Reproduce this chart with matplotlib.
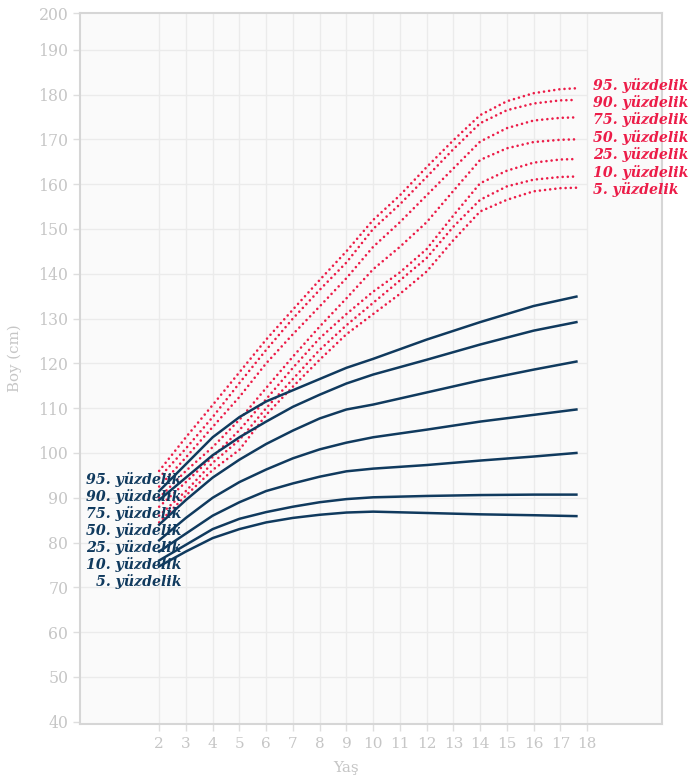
# Growth percentile chart: dark solid lines vs red dotted reference lines.

import numpy as np
import matplotlib.pyplot as plt

# Ages (x values) for the dark solid series.
ages_dark = [2, 3, 4, 5, 6, 7, 8, 9, 10, 12, 14, 16, 17.6]

# Dark solid percentile series (cm).
dark_p95 = [91.5, 97.5, 103.5, 108.0, 111.5, 114.0, 116.5, 119.0, 121.0, 125.3, 129.2, 132.8, 134.9]
dark_p90 = [89.5, 94.5, 99.5, 103.5, 107.0, 110.3, 113.0, 115.5, 117.5, 120.8, 124.2, 127.3, 129.2]
dark_p75 = [84.0, 89.5, 94.5, 98.5, 102.0, 105.0, 107.7, 109.7, 110.8, 113.5, 116.2, 118.6, 120.4]
dark_p50 = [80.5, 85.5, 90.0, 93.5, 96.3, 98.8, 100.8, 102.3, 103.5, 105.2, 107.0, 108.5, 109.7]
dark_p25 = [78.0, 82.0, 86.0, 89.0, 91.5, 93.2, 94.7, 95.9, 96.5, 97.3, 98.3, 99.2, 100.0]
dark_p10 = [76.0, 79.5, 83.0, 85.3, 86.8, 88.0, 89.0, 89.7, 90.1, 90.4, 90.6, 90.7, 90.7]
dark_p5 = [74.7, 78.0, 81.0, 83.0, 84.5, 85.5, 86.2, 86.7, 86.9, 86.6, 86.3, 86.1, 85.9]

# Ages (x values) for the red dotted series.
ages_red = [2, 3, 4, 5, 6, 7, 8, 9, 10, 11, 12, 13, 14, 15, 16, 17, 17.6]

# Red dotted percentile series (cm).
red_p95 = [96.0, 103.5, 110.7, 118.0, 125.3, 132.0, 138.6, 145.0, 152.0, 157.5, 163.8, 169.8, 175.4, 178.5, 180.3, 181.2, 181.4]
red_p90 = [94.5, 101.0, 108.0, 115.6, 123.0, 130.0, 136.4, 142.5, 150.0, 155.5, 161.6, 167.8, 173.6, 176.5, 178.0, 178.7, 178.8]
red_p75 = [92.5, 99.0, 105.8, 112.5, 120.0, 126.5, 132.7, 139.0, 146.0, 151.5, 157.5, 163.5, 169.5, 172.5, 174.2, 174.8, 174.9]
red_p50 = [90.0, 96.0, 101.3, 107.4, 114.5, 121.5, 128.2, 134.5, 141.0, 146.0, 151.5, 158.5, 165.4, 168.0, 169.4, 169.9, 170.0]
red_p25 = [88.0, 93.5, 99.1, 105.1, 112.0, 119.0, 125.6, 131.0, 136.0, 140.3, 145.5, 153.0, 160.2, 163.0, 164.8, 165.5, 165.6]
red_p10 = [86.0, 91.5, 97.8, 102.9, 110.0, 116.5, 123.0, 128.5, 133.5, 138.5, 143.5, 150.5, 156.5, 159.5, 161.0, 161.6, 161.7]
red_p5 = [84.5, 90.5, 96.2, 100.7, 108.5, 114.8, 120.8, 126.5, 131.0, 135.5, 140.5, 147.5, 153.9, 156.5, 158.4, 159.1, 159.2]

# Percentile label texts, top to bottom.
labels = ["95. yüzdelik", "90. yüzdelik", "75. yüzdelik", "50. yüzdelik",
          "25. yüzdelik", "10. yüzdelik", "5. yüzdelik"]

# Tick values.
x_ticks = list(range(2, 19))
y_ticks = list(range(40, 200, 10))

dark_series = [dark_p95, dark_p90, dark_p75, dark_p50, dark_p25, dark_p10, dark_p5]
red_series = [red_p95, red_p90, red_p75, red_p50, red_p25, red_p10, red_p5]

dark_color = "#103a5e"
red_color = "#ec1c48"
tick_color = "#c6c6c6"

fig = plt.figure(figsize=(6.92, 7.81), dpi=100)
ax = fig.add_axes([80 / 692, 1 - 724 / 781, 582 / 692, 711 / 781])
ax.set_facecolor("#fafafa")

x_min, x_max = -0.96, 20.8
y_min, y_max = 39.5, 198.2
ax.set_xlim(x_min, x_max)
ax.set_ylim(y_min, y_max)

# Vertical grid lines over the full height, horizontal ones only up to age 18.
for xv in x_ticks:
    ax.axvline(xv, color="#ebebeb", lw=1.0, zorder=0)
ax.hlines(y_ticks[1:], x_min, 18, color="#ebebeb", lw=1.0, zorder=0)

# Red dotted reference curves.
for vals in red_series:
    ax.plot(ages_red, vals, color=red_color, lw=1.9, linestyle=(0, (0.01, 1.95)),
            dash_capstyle="round", zorder=2)

# Dark solid curves.
for vals in dark_series:
    ax.plot(ages_dark, vals, color=dark_color, lw=1.8, zorder=3)

label_font = {"family": ["DejaVu Serif"], "weight": "bold",
              "style": "italic", "size": 10.2}

# Left labels for the dark curves.
for i, txt in enumerate(labels):
    ax.text(2.82, 94.0 - i * 3.8, txt, color=dark_color, ha="right", va="center",
            zorder=4, **label_font)

# Right labels for the red curves.
for i, txt in enumerate(labels):
    ax.text(18.22, 182.1 - i * 3.88, txt, color=red_color, ha="left", va="center",
            zorder=4, **label_font)

# Axes styling.
for side in ["top", "right", "left", "bottom"]:
    ax.spines[side].set_color("#d6d6d6")
    ax.spines[side].set_linewidth(1.5)

tick_font = ["DejaVu Serif"]
ax.set_xticks(x_ticks)
ax.set_xticklabels([str(v) for v in x_ticks], fontsize=11, color=tick_color, family=tick_font)
ax.set_yticks(y_ticks + [y_max])
ax.set_yticklabels([str(v) for v in y_ticks] + ["200"], fontsize=11.3, color=tick_color, family=tick_font)
ax.tick_params(axis="both", color="#dedede", length=5, width=1)
ax.tick_params(axis="x", pad=4)
ax.tick_params(axis="y", pad=3.5)

ax.set_xlabel("Yaş", fontsize=11, color=tick_color, family=tick_font)
ax.xaxis.set_label_coords((346.5 - 80) / 582, -0.052)
ax.set_ylabel("Boy (cm)", fontsize=10.8, color=tick_color, family=tick_font)
ax.yaxis.set_label_coords(-0.1, (724 - 358) / 711)

fig.savefig("out.png", dpi=100)
plt.close(fig)
